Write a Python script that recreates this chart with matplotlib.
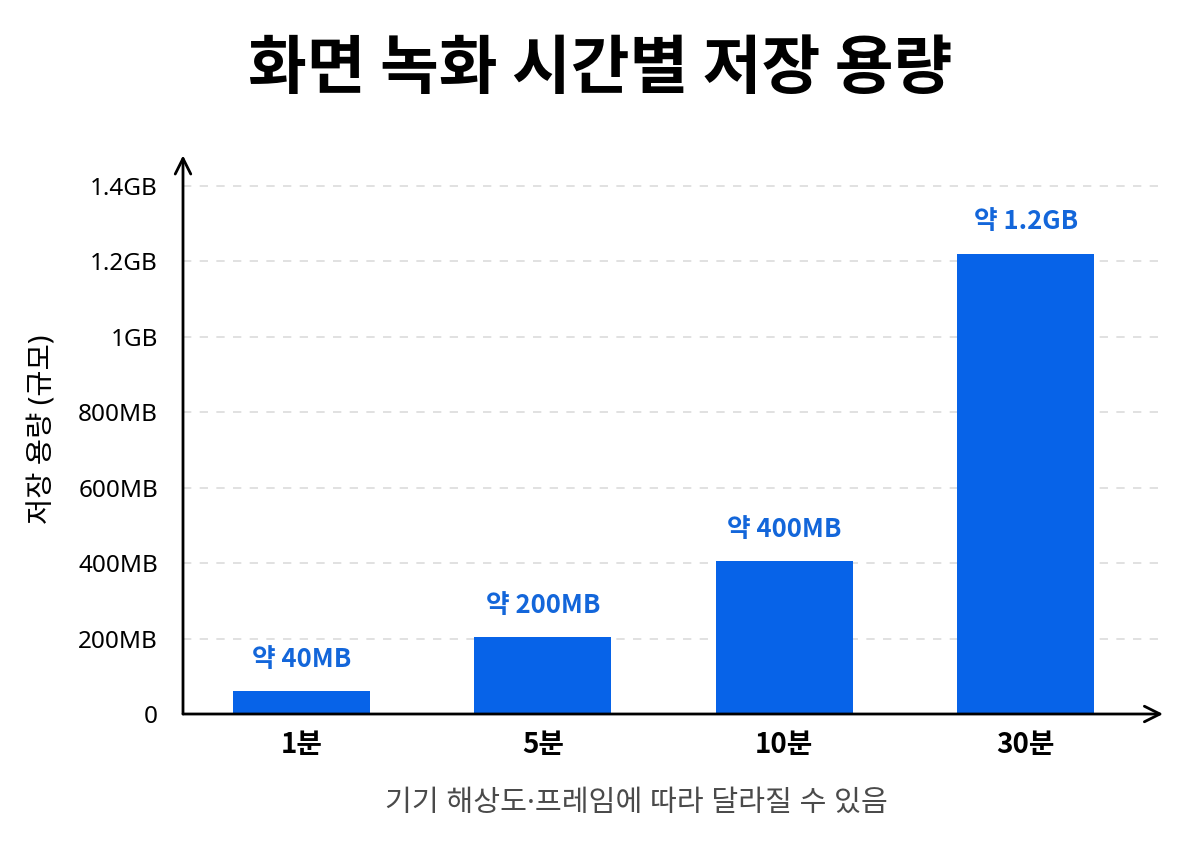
import matplotlib
matplotlib.use("Agg")
import matplotlib.pyplot as plt

plt.rcParams['font.family'] = ['Noto Sans', 'Noto Sans CJK KR', 'DejaVu Sans']
CJK = ['Noto Sans CJK KR', 'DejaVu Sans']

# data
durations = ['1분', '5분', '10분', '30분']
sizes_mb = [60, 205, 405, 1220]
bar_labels = ['약 40MB', '약 200MB', '약 400MB', '약 1.2GB']
tick_values = [0, 200, 400, 600, 800, 1000, 1200, 1400]
tick_labels = ['0', '200MB', '400MB', '600MB', '800MB', '1GB', '1.2GB', '1.4GB']

BLUE = '#0763E8'
LABEL_BLUE = '#1366DA'


def main():
    fig = plt.figure(figsize=(12, 8.49), dpi=100)
    ax = fig.add_axes([0.1525, 0.159, 0.8167, 0.658])

    x = list(range(len(durations)))
    ax.bar(x, sizes_mb, width=0.567, color=BLUE, zorder=3)

    for xi, val, lab in zip(x, sizes_mb, bar_labels):
        ax.annotate(lab, xy=(xi, val), xytext=(0, 13), textcoords='offset points',
                    ha='center', va='bottom', fontsize=18.5, color=LABEL_BLUE,
                    fontweight='bold', family=CJK)

    ax.set_xlim(-0.49, 3.568)
    ax.set_ylim(0, 1480)

    ax.set_yticks(tick_values)
    ax.set_yticklabels(tick_labels, fontsize=17.5)
    ax.set_xticks(x)
    ax.set_xticklabels(durations, fontsize=20, fontweight='bold', family=CJK)
    ax.tick_params(axis='y', length=0, pad=18)
    ax.tick_params(axis='x', length=0, pad=12)

    # dashed grid lines
    for v in tick_values[1:]:
        ax.axhline(v, color='#dcdcdc', lw=1.2, ls=(0, (5, 5)), zorder=1)

    for s in ax.spines.values():
        s.set_visible(False)

    # axes with arrow heads
    ax.annotate('', xy=(1.0, 0), xytext=(0, 0), xycoords='axes fraction',
                arrowprops=dict(arrowstyle='->', lw=2, color='black',
                                mutation_scale=28, shrinkA=0, shrinkB=0), zorder=5)
    ax.annotate('', xy=(0, 1.0), xytext=(0, 0), xycoords='axes fraction',
                arrowprops=dict(arrowstyle='->', lw=2, color='black',
                                mutation_scale=28, shrinkA=0, shrinkB=0), zorder=5)

    ax.set_ylabel('저장 용량 (규모)', fontsize=20.5)
    ax.yaxis.set_label_coords(-0.128, 0.51)

    fig.text(0.5, 0.918, '화면 녹화 시간별 저장 용량', ha='center', va='center',
             fontsize=46, fontweight='bold', color='black', family=CJK)
    fig.text(0.53, 0.054, '기기 해상도·프레임에 따라 달라질 수 있음', ha='center',
             va='center', fontsize=21, color='#4a4a4a')

    fig.savefig('out.png', dpi=100, facecolor='white')


if __name__ == "__main__":
    main()
